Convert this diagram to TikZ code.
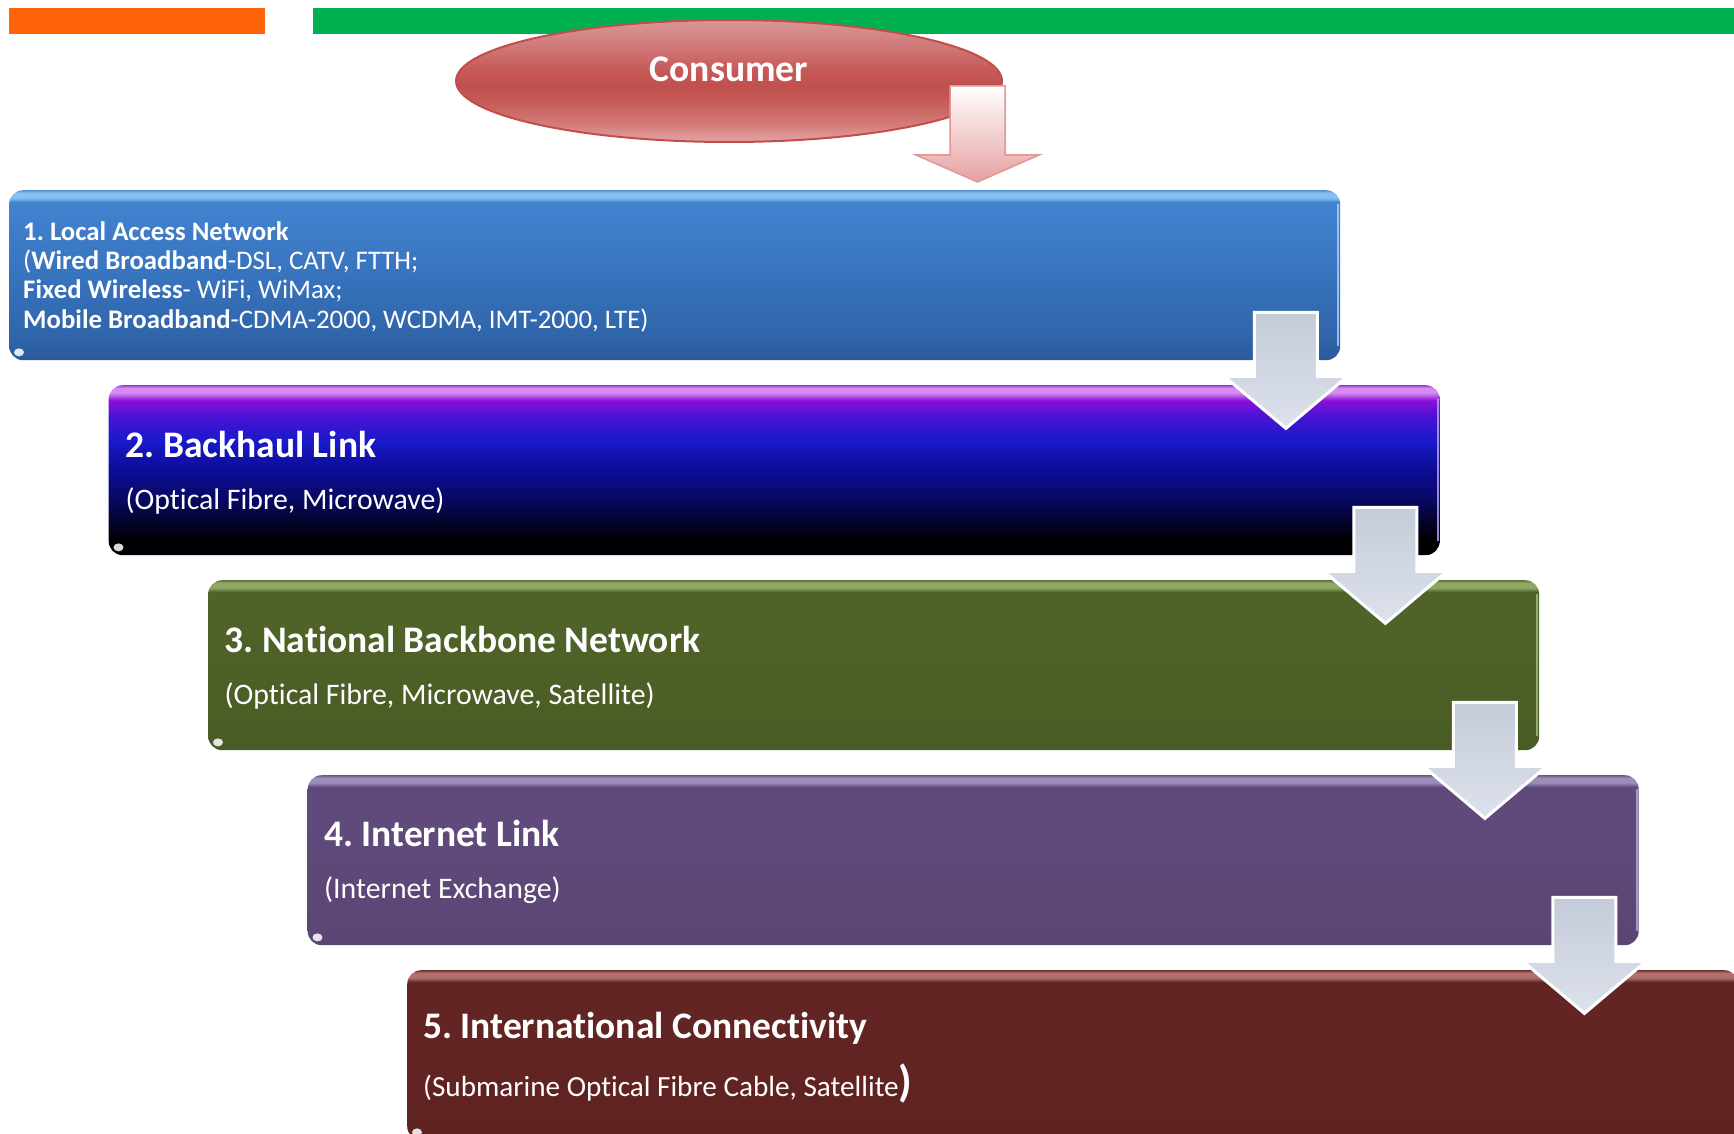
\documentclass[tikz,border=0pt]{standalone}
\usepackage{fontspec}
\setmainfont{Carlito}[Ligatures=NoCommon]
\usetikzlibrary{calc,shapes.geometric}
\frenchspacing

% palette
\definecolor{barOrange}{HTML}{FF6309}
\definecolor{barGreen}{HTML}{00B050}
\definecolor{conLo}{HTML}{E2A6A6}
\definecolor{conA}{HTML}{D47C7A}
\definecolor{conB}{HTML}{C55A57}
\definecolor{conCore}{HTML}{C0504D}
\definecolor{conC}{HTML}{C55A58}
\definecolor{conD}{HTML}{D07A7A}
\definecolor{conHi}{HTML}{DA9696}
\definecolor{conEdge}{HTML}{C24E4B}
\definecolor{pinkArrow}{HTML}{E6A0A0}
\definecolor{pinkEdge}{HTML}{E29696}
\definecolor{arrTop}{HTML}{C4CBD9}
\definecolor{arrBot}{HTML}{DDE2EB}

\definecolor{lanBot}{HTML}{2A5A9C}
\definecolor{lanLow}{HTML}{2F64A8}
\definecolor{lanMid}{HTML}{3A76C2}
\definecolor{lanUp}{HTML}{4383CF}
\definecolor{lanHi}{HTML}{88C0F2}
\definecolor{lanTop}{HTML}{5592DA}
\definecolor{lanEdge}{HTML}{A8D4FF}

\definecolor{bhBot}{HTML}{000004}
\definecolor{bhA}{HTML}{03032C}
\definecolor{bhB}{HTML}{080860}
\definecolor{bhNavy}{HTML}{0C0C96}
\definecolor{bhBlue}{HTML}{1A1ACA}
\definecolor{bhViolet}{HTML}{4A12D4}
\definecolor{bhPurple}{HTML}{8A10DA}
\definecolor{bhHi}{HTML}{D48CF2}
\definecolor{bhTop}{HTML}{9A3AE0}
\definecolor{bhEdge}{HTML}{B8A8FF}

\definecolor{nbBot}{HTML}{4A5C25}
\definecolor{nbBase}{HTML}{4F6228}
\definecolor{nbHi}{HTML}{8EA862}
\definecolor{nbTop}{HTML}{5F7435}
\definecolor{nbEdge}{HTML}{C8DCA0}

\definecolor{ilBot}{HTML}{5A4574}
\definecolor{ilBase}{HTML}{604A7B}
\definecolor{ilHi}{HTML}{9C8CBA}
\definecolor{ilTop}{HTML}{6E5A8A}
\definecolor{ilEdge}{HTML}{C8B8E8}

\definecolor{icBot}{HTML}{5E2220}
\definecolor{icBase}{HTML}{632523}
\definecolor{icHi}{HTML}{B07070}
\definecolor{icTop}{HTML}{74302E}

% vertical shadings (25bp = bottom edge, 75bp = top edge)
\pgfdeclareverticalshading{consumerShade}{100bp}{color(0bp)=(conLo); color(25bp)=(conLo); color(32bp)=(conA); color(42bp)=(conB); color(48bp)=(conCore); color(54.5bp)=(conC); color(64.8bp)=(conD); color(75bp)=(conHi); color(100bp)=(conHi)}
\pgfdeclareverticalshading{shadeLan}{100bp}{color(0bp)=(lanBot); color(25bp)=(lanBot); color(31bp)=(lanLow); color(54bp)=(lanMid); color(71.5bp)=(lanUp); color(72.8bp)=(lanHi); color(74.2bp)=(lanHi); color(75bp)=(lanTop); color(100bp)=(lanTop)}
\pgfdeclareverticalshading{shadeBackhaul}{100bp}{color(0bp)=(bhBot); color(25bp)=(bhBot); color(30bp)=(bhBot); color(35bp)=(bhA); color(41bp)=(bhB); color(50bp)=(bhNavy); color(58.8bp)=(bhBlue); color(66bp)=(bhViolet); color(70.5bp)=(bhPurple); color(72.8bp)=(bhHi); color(74.2bp)=(bhHi); color(75bp)=(bhTop); color(100bp)=(bhTop)}
\pgfdeclareverticalshading{shadeBackbone}{100bp}{color(0bp)=(nbBot); color(25bp)=(nbBot); color(60bp)=(nbBase); color(71.5bp)=(nbBase); color(72.8bp)=(nbHi); color(74.2bp)=(nbHi); color(75bp)=(nbTop); color(100bp)=(nbTop)}
\pgfdeclareverticalshading{shadeInternet}{100bp}{color(0bp)=(ilBot); color(25bp)=(ilBot); color(60bp)=(ilBase); color(71.5bp)=(ilBase); color(72.8bp)=(ilHi); color(74.2bp)=(ilHi); color(75bp)=(ilTop); color(100bp)=(ilTop)}
\pgfdeclareverticalshading{shadeIntl}{100bp}{color(0bp)=(icBot); color(25bp)=(icBot); color(60bp)=(icBase); color(71.5bp)=(icBase); color(72.8bp)=(icHi); color(74.2bp)=(icHi); color(75bp)=(icTop); color(100bp)=(icTop)}

\newcommand{\consumerfont}{\fontsize{37.6}{41}\selectfont\bfseries}
\newcommand{\lanfont}{\fontsize{26.8}{30}\selectfont}
\newcommand{\titlefont}{\fontsize{37.5}{41}\selectfont\bfseries}
\newcommand{\subfont}{\fontsize{29.8}{34}\selectfont}
\newcommand{\subfontsmall}{\fontsize{29.2}{34}\selectfont}

\tikzset{
  stagebox/.style={rectangle, rounded corners=14pt, minimum width=1331pt,
    minimum height=170pt, inner sep=0pt, anchor=north west, shade},
  consumerblob/.style={ellipse, minimum width=546pt, minimum height=122pt,
    inner sep=0pt, shade, shading=consumerShade, draw=conEdge, line width=2pt},
  whitetext/.style={text=white, inner sep=0pt, anchor=base west},
  flowarrow/.style={top color=arrTop, bottom color=arrBot, draw=white,
    line width=3pt, line join=miter},
  consumerarrow/.style={top color=white, bottom color=pinkArrow, draw=pinkEdge,
    line width=1.5pt, line join=miter},
  gloss/.style={fill=white, opacity=0.85},
}

\begin{document}
\begin{tikzpicture}[x=1pt,y=-1pt]
\useasboundingbox (0,0) rectangle (1734,1134);
\fill[white] (0,0) rectangle (1734,1134);

% header bars
\fill[barOrange] (9,8) rectangle (265,34);
\fill[barGreen] (313,8) rectangle (1734,34);

% consumer
\node[consumerblob] (consumer) at (729,81) {};
\node[text=white, inner sep=0pt, anchor=base, font=\consumerfont] (consumerlabel) at (729,82) {Consumer};

% stage boxes
\node[stagebox, shading=shadeLan]      (b1) at (9,190) {};
\node[stagebox, shading=shadeBackhaul] (b2) at (108.5,385) {};
\node[stagebox, shading=shadeBackbone] (b3) at (208,580) {};
\node[stagebox, shading=shadeInternet] (b4) at (307.5,775) {};
\node[stagebox, shading=shadeIntl]     (b5) at (407,970) {};

% light right-hand rims
\draw[lanEdge, line width=2pt, opacity=0.8] ($(b1.north east)+(-2,14)$) -- ($(b1.south east)+(-2,-14)$);
\draw[bhEdge, line width=2pt, opacity=0.8] ($(b2.north east)+(-2,14)$) -- ($(b2.south east)+(-2,-14)$);
\draw[nbEdge, line width=2pt, opacity=0.6] ($(b3.north east)+(-2,14)$) -- ($(b3.south east)+(-2,-14)$);
\draw[ilEdge, line width=2pt, opacity=0.7] ($(b4.north east)+(-2,14)$) -- ($(b4.south east)+(-2,-14)$);

% glossy specks at the lower left corners
\foreach \b in {b1,b2,b3,b4,b5}
  \fill[gloss] ($(\b.south west)+(10,-8)$) ellipse (5 and 4);

% stage texts
\node[whitetext, font=\lanfont] (lan1) at ($(b1.north west)+(14,50.5)$) {\textbf{1. Local Access Network}};
\node[whitetext, font=\lanfont] (lan2) at ($(b1.north west)+(14,79.5)$) {(\textbf{Wired Broadband}-DSL, CATV, FTTH;};
\node[whitetext, font=\lanfont] (lan3) at ($(b1.north west)+(14,108.5)$) {\textbf{Fixed Wireless}- WiFi, WiMax;};
\node[whitetext, font=\lanfont] (lan4) at ($(b1.north west)+(14,138)$) {\textbf{Mobile Broadband}-CDMA-2000, WCDMA, IMT-2000, LTE)};

\node[whitetext, font=\titlefont] (t2) at ($(b2.north west)+(17,72)$) {2. Backhaul Link};
\node[whitetext, font=\subfont]   (s2) at ($(b2.north west)+(17,124)$) {(Optical Fibre, Microwave)};

\node[whitetext, font=\titlefont] (t3) at ($(b3.north west)+(16.5,72)$) {3. National Backbone Network};
\node[whitetext, font=\subfont]   (s3) at ($(b3.north west)+(16.5,124)$) {(Optical Fibre, Microwave, Satellite)};

\node[whitetext, font=\titlefont] (t4) at ($(b4.north west)+(16.5,71)$) {4. Internet Link};
\node[whitetext, font=\subfont]   (s4) at ($(b4.north west)+(16.5,123)$) {(Internet Exchange)};

\node[whitetext, font=\titlefont] (t5) at ($(b5.north west)+(16,68)$) {5. International Connectivity};
\node[whitetext, font=\subfontsmall] (s5) at ($(b5.north west)+(16,126)$) {(Submarine Optical Fibre Cable, Satellite{\fontsize{44}{48}\selectfont\bfseries)}};

% consumer -> local access arrow
\coordinate (c0) at ($(consumer.east)+(-53,5)$);
\draw[consumerarrow] (c0) -- ++(55,0) -- ++(0,69) -- ++(34,0) -- ++(-61.5,27)
  -- ++(-61.5,-27) -- ++(34,0) -- cycle;

% stage-to-stage arrows
\foreach \s/\n in {b1/a1,b2/a2,b3/a3,b4/a4}{
  \coordinate (\n) at ($(\s.south east)+(-86,-48)$);
  \draw[flowarrow] (\n) -- ++(63,0) -- ++(0,64) -- ++(30,0) -- ++(-61.5,52)
    -- ++(-61.5,-52) -- ++(30,0) -- cycle;
}
\end{tikzpicture}
\end{document}
